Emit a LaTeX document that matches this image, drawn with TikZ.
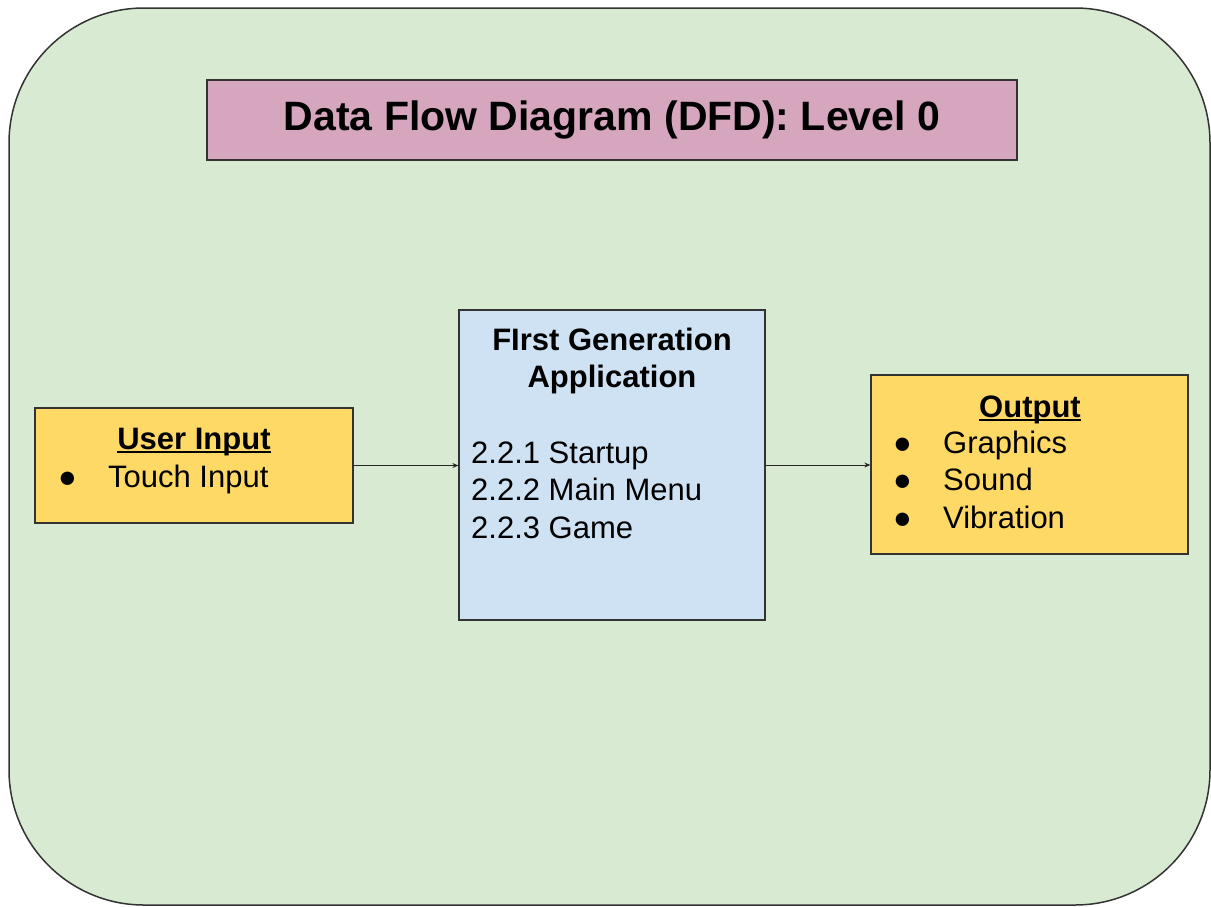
\documentclass[tikz,border=0pt]{standalone}
\usepackage{fontspec}
\setmainfont{Liberation Sans}
\usetikzlibrary{arrows.meta}

\definecolor{bggreen}{HTML}{D9EAD3}
\definecolor{titlepink}{HTML}{D5A6BD}
\definecolor{appblue}{HTML}{CFE2F3}
\definecolor{ioyellow}{HTML}{FFD966}
\definecolor{edgegray}{HTML}{333333}

\newcommand{\ulhead}[1]{\setbox0\hbox{\bfseries #1}\rlap{\rule[-4pt]{\wd0}{2pt}}\box0}
\newcommand{\itm}[1]{\makebox[50pt][l]{●}#1}

\begin{document}
\begin{tikzpicture}[x=1pt,y=-1pt,
  box/.style={draw=edgegray,line width=1.2pt,inner sep=0pt},
  txt/.style={inner sep=0pt,anchor=base,font=\fontsize{31}{37.5}\selectfont},
  flow/.style={draw=black!85,line width=1pt,-{Stealth[length=6pt,width=5pt]}}]

\useasboundingbox (0,0) rectangle (1211,906);

\draw[edgegray,fill=bggreen,line width=1.5pt,rounded corners=135pt] (9,8) rectangle (1210,905);


\node[box,fill=titlepink,minimum width=810pt,minimum height=80pt] (title) at (612,120)
  {\fontsize{41}{48}\selectfont\bfseries Data Flow Diagram (DFD): Level 0};

\node[box,fill=ioyellow,minimum width=318pt,minimum height=115pt] (user) at (194,465.5) {};
\node[box,fill=appblue,minimum width=306pt,minimum height=310pt] (app) at (612,465) {};
\node[box,fill=ioyellow,minimum width=317pt,minimum height=179pt] (output) at (1029.5,464.5) {};


\node[txt] (userhead) at (194,449) {\ulhead{User Input}};
\node[txt,anchor=base west] (userlist) at (58,487) {\itm{Touch Input}};

\node[txt] (apphead) at (612,350) {\begin{tabular}[t]{@{}c@{}}\bfseries FIrst Generation\\\bfseries Application\end{tabular}};
\node[txt,anchor=base west] (applist) at (471,463) {\begin{tabular}[t]{@{}l@{}}2.2.1 Startup\\2.2.2 Main Menu\\2.2.3 Game\end{tabular}};

\node[txt] (outhead) at (1030,417) {\ulhead{Output}};
\node[txt,anchor=base west] (outlist) at (893,453) {\begin{tabular}[t]{@{}l@{}}\itm{Graphics}\\\itm{Sound}\\\itm{Vibration}\end{tabular}};


\draw[flow] (user.east) -- (user.east -| app.west);
\draw[flow] (app.east) -- (app.east -| output.west);

\end{tikzpicture}
\end{document}
